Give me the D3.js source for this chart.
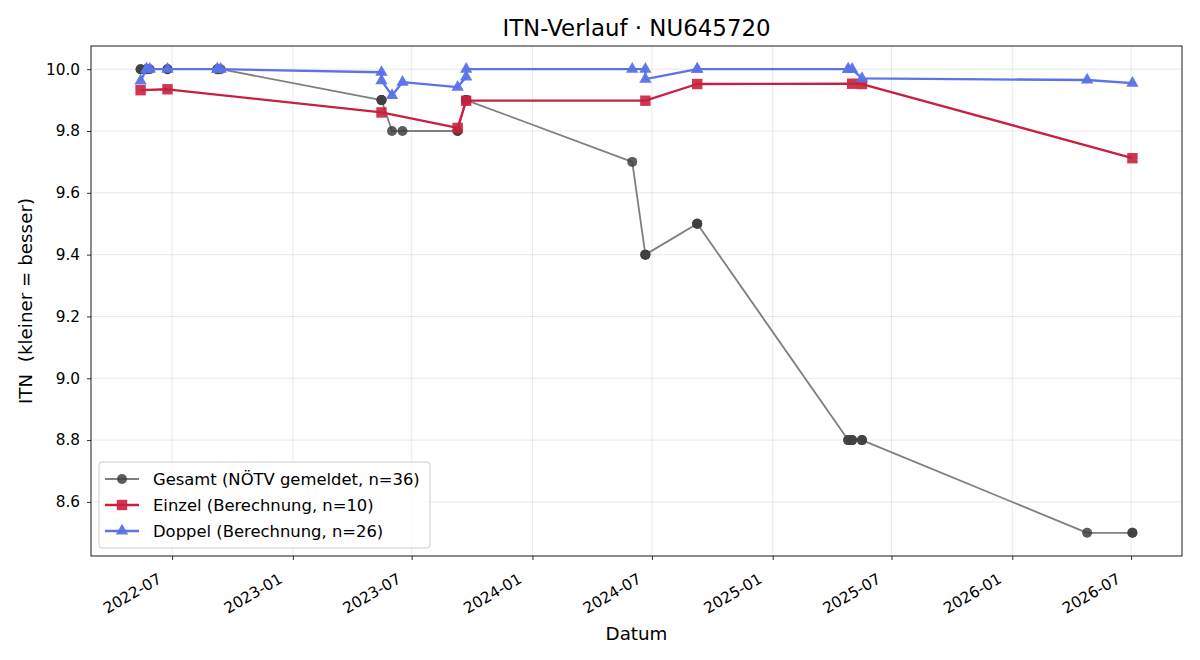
<!DOCTYPE html>
<html>
<head>
<meta charset="utf-8">
<script src="https://cdn.jsdelivr.net/npm/d3@7"></script>
<style>
  body { margin: 0; background: #fff; }
  text { font-family: "DejaVu Sans", sans-serif; fill: #000; }
  .tick text { font-size: 15.3px; }
</style>
</head>
<body>
<div id="chart"></div>
<script>
// Gesamt (NÖTV gemeldet) – one entry per match
const gesamtDates = [
  "2022-05-14", "2022-05-14", "2022-05-23", "2022-05-23", "2022-05-28", "2022-06-24", "2022-06-24",
  "2022-09-08", "2022-09-08", "2022-09-13",
  "2023-05-16", "2023-05-16", "2023-05-16", "2023-06-01", "2023-06-17", "2023-09-09", "2023-09-09",
  "2023-09-22", "2023-09-22", "2023-09-22",
  "2024-06-01", "2024-06-21", "2024-06-21", "2024-06-21", "2024-09-08", "2024-09-08", "2024-09-08",
  "2025-04-26", "2025-04-26", "2025-05-02", "2025-05-02", "2025-05-17", "2025-05-17",
  "2026-04-25", "2026-07-03", "2026-07-03"
];
const gesamtValues = [
  10.0, 10.0, 10.0, 10.0, 10.0, 10.0, 10.0,
  10.0, 10.0, 10.0,
  9.9, 9.9, 9.9, 9.8, 9.8, 9.8, 9.8,
  9.9, 9.9, 9.9,
  9.7, 9.4, 9.4, 9.4, 9.5, 9.5, 9.5,
  8.8, 8.8, 8.8, 8.8, 8.8, 8.8,
  8.5, 8.5, 8.5
];

const einzelDates = [
  "2022-05-14", "2022-06-24", "2023-05-16", "2023-09-09", "2023-09-22",
  "2024-06-21", "2024-09-08", "2025-05-02", "2025-05-17", "2026-07-03"
];
const einzelValues = [9.932, 9.935, 9.86, 9.81, 9.898, 9.898, 9.952, 9.953, 9.952, 9.712];

const doppelDates = [
  "2022-05-14", "2022-05-23", "2022-05-23", "2022-05-28", "2022-06-24", "2022-09-08", "2022-09-08",
  "2022-09-13", "2023-05-16", "2023-05-16", "2023-06-01", "2023-06-17", "2023-09-09",
  "2023-09-22", "2023-09-22", "2024-06-01", "2024-06-21", "2024-06-21", "2024-09-08", "2024-09-08",
  "2025-04-26", "2025-04-26", "2025-05-02", "2025-05-17", "2026-04-25", "2026-07-03"
];
const doppelValues = [
  9.962, 10.0, 10.0, 10.0, 10.0, 10.0, 10.0,
  10.0, 9.99, 9.963, 9.915, 9.958, 9.942,
  9.975, 10.0, 10.0, 10.0, 9.968, 10.0, 10.0,
  10.0, 10.0, 10.0, 9.97, 9.965, 9.955
];

const yTicks = [8.6, 8.8, 9.0, 9.2, 9.4, 9.6, 9.8, 10.0];

const parse = d3.timeParse("%Y-%m-%d");
const toPoints = (dates, values) => dates.map((d, i) => ({ date: parse(d), value: values[i] }));

const series = [
  { name: "Gesamt (NÖTV gemeldet, n=36)", pts: toPoints(gesamtDates, gesamtValues), marker: "circle", line: "#7f7f7f", fill: "#404040", lw: 1.8 },
  { name: "Einzel (Berechnung, n=10)", pts: toPoints(einzelDates, einzelValues), marker: "square", line: "#c9203f", fill: "#c9203f", lw: 2.3 },
  { name: "Doppel (Berechnung, n=26)", pts: toPoints(doppelDates, doppelValues), marker: "triangle", line: "#5a73e8", fill: "#5a73e8", lw: 2.3 }
];

const W = 1200, H = 660;
const margin = { top: 46, right: 18, bottom: 104, left: 91 };
const width = W - margin.left - margin.right;
const height = H - margin.top - margin.bottom;

const svg = d3.select("#chart").append("svg")
  .attr("width", W)
  .attr("height", H);

const g = svg.append("g")
  .attr("transform", `translate(${margin.left},${margin.top})`);

// matplotlib-like 5% padding
const allPts = series.flatMap(s => s.pts);
const xExt = d3.extent(allPts, d => d.date);
const xPad = (xExt[1] - xExt[0]) * 0.05;
const yExt = d3.extent(allPts, d => d.value);
const yPad = (yExt[1] - yExt[0]) * 0.05;

const x = d3.scaleTime()
  .domain([new Date(+xExt[0] - xPad), new Date(+xExt[1] + xPad)])
  .range([0, width]);

const y = d3.scaleLinear()
  .domain([yExt[0] - yPad, yExt[1] + yPad])
  .range([height, 0]);

const xTicks = x.ticks(d3.timeMonth.every(6));

// grid
g.append("g").selectAll("line").data(xTicks).join("line")
  .attr("x1", d => x(d)).attr("x2", d => x(d))
  .attr("y1", 0).attr("y2", height)
  .attr("stroke", "#b0b0b0").attr("stroke-opacity", 0.35).attr("stroke-width", 0.8);
g.append("g").selectAll("line").data(yTicks).join("line")
  .attr("x1", 0).attr("x2", width)
  .attr("y1", d => y(d)).attr("y2", d => y(d))
  .attr("stroke", "#b0b0b0").attr("stroke-opacity", 0.35).attr("stroke-width", 0.8);

// axes
const xAxis = g.append("g")
  .attr("transform", `translate(0,${height})`)
  .call(d3.axisBottom(x).tickValues(xTicks).tickFormat(d3.timeFormat("%Y-%m")).tickSize(4).tickSizeOuter(0));
xAxis.selectAll("text")
  .attr("text-anchor", "end")
  .attr("dy", null)
  .attr("y", 0)
  .attr("transform", "translate(-10,26) rotate(-30)");

const yAxis = g.append("g")
  .call(d3.axisLeft(y).tickValues(yTicks).tickFormat(d3.format(".1f")).tickSize(4).tickSizeOuter(0));

[xAxis, yAxis].forEach(a => {
  a.select(".domain").remove();
  a.selectAll(".tick line").attr("stroke", "#000").attr("stroke-width", 0.8);
});
yAxis.selectAll("text").attr("x", -11);

g.append("rect")
  .attr("width", width).attr("height", height)
  .attr("fill", "none").attr("stroke", "#000").attr("stroke-width", 0.9);

// markers
function drawMarker(sel, type, fill) {
  if (type === "circle") {
    sel.append("circle").attr("r", 5).attr("fill", fill).attr("fill-opacity", 0.85);
  } else if (type === "square") {
    sel.append("rect").attr("x", -5.2).attr("y", -5.2).attr("width", 10.4).attr("height", 10.4)
      .attr("fill", fill).attr("fill-opacity", 0.9);
  } else {
    sel.append("path").attr("d", d3.symbol(d3.symbolTriangle, 66)()).attr("fill", fill).attr("fill-opacity", 0.95);
  }
}

const line = d3.line().x(d => x(d.date)).y(d => y(d.value));

series.forEach(s => {
  const sg = g.append("g");
  sg.append("path")
    .datum(s.pts)
    .attr("d", line)
    .attr("fill", "none")
    .attr("stroke", s.line)
    .attr("stroke-width", s.lw)
    .attr("stroke-linejoin", "round");
  sg.selectAll("g.pt").data(s.pts).join("g")
    .attr("class", "pt")
    .attr("transform", d => `translate(${x(d.date)},${y(d.value)})`)
    .each(function () { drawMarker(d3.select(this), s.marker, s.fill); });
});

// legend
const legend = g.append("g").attr("transform", "translate(8,416)");
legend.append("rect")
  .attr("width", 331).attr("height", 86).attr("rx", 3)
  .attr("fill", "#fff").attr("fill-opacity", 0.8)
  .attr("stroke", "#cccccc");
series.forEach((s, i) => {
  const row = legend.append("g").attr("transform", `translate(0,${17 + i * 26})`);
  row.append("line")
    .attr("x1", 6).attr("x2", 40)
    .attr("stroke", s.line).attr("stroke-width", s.lw);
  const m = row.append("g").attr("transform", "translate(23,0)");
  drawMarker(m, s.marker, s.fill);
  row.append("text")
    .attr("x", 54).attr("y", 6)
    .style("font-size", "16.4px")
    .text(s.name);
});

// labels
svg.append("text")
  .attr("x", margin.left + width / 2).attr("y", 36)
  .attr("text-anchor", "middle")
  .style("font-size", "22.9px")
  .text("ITN-Verlauf · NU645720");

svg.append("text")
  .attr("x", margin.left + width / 2).attr("y", 640)
  .attr("text-anchor", "middle")
  .style("font-size", "18.3px")
  .text("Datum");

svg.append("text")
  .attr("transform", `translate(32,${margin.top + height / 2}) rotate(-90)`)
  .attr("text-anchor", "middle")
  .style("font-size", "18.3px")
  .style("white-space", "pre")
  .text("ITN  (kleiner = besser)");
</script>
</body>
</html>
